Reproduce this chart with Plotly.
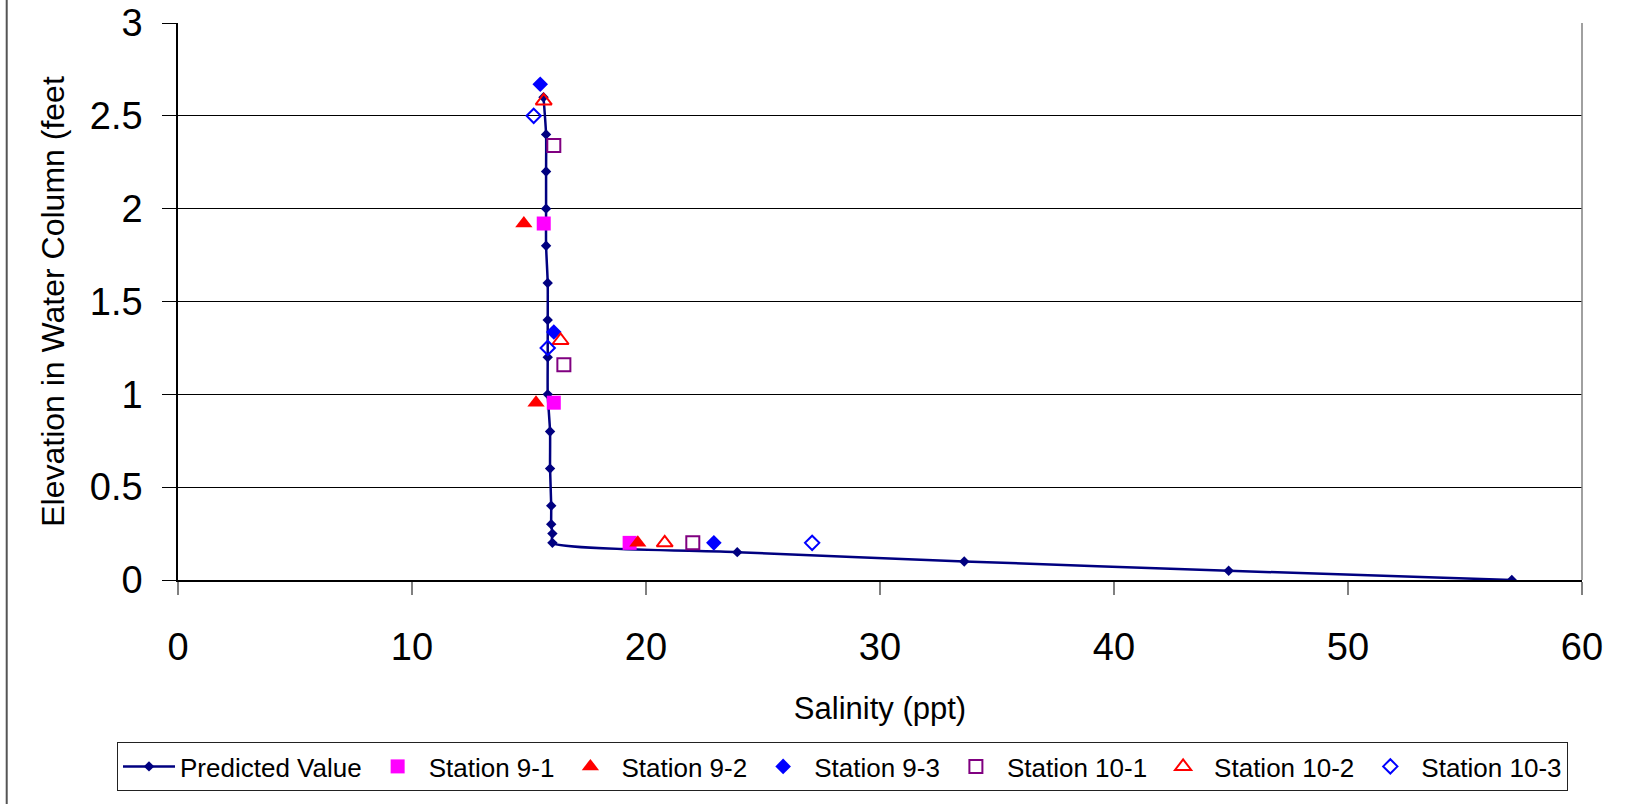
import plotly.graph_objects as go

# Predicted salinity profile (ppt) versus elevation in the water column (feet)
pred_salinity = [57.0, 44.9, 33.6, 23.9, 16.0, 16.0, 15.95, 15.95, 15.9, 15.9,
                 15.8, 15.8, 15.8, 15.8, 15.73, 15.73, 15.73, 15.73, 15.62]
pred_elev = [0.0, 0.05, 0.1, 0.15, 0.2, 0.25, 0.3, 0.4, 0.6, 0.8,
             1.0, 1.2, 1.4, 1.6, 1.8, 2.0, 2.2, 2.4, 2.6]

# Field measurements at each station
st91_sal = [15.63, 16.06, 19.3]
st91_elev = [1.92, 0.955, 0.2]
st92_sal = [14.78, 15.3, 19.65]
st92_elev = [1.92, 0.955, 0.2]
st93_sal = [15.48, 16.06, 22.9]
st93_elev = [2.67, 1.336, 0.2]
st101_sal = [16.06, 16.49, 22.0]
st101_elev = [2.34, 1.16, 0.2]
st102_sal = [15.63, 16.35, 20.8]
st102_elev = [2.58, 1.29, 0.2]
st103_sal = [15.2, 15.8, 27.1]
st103_elev = [2.5, 1.25, 0.2]

x_ticks = [0, 10, 20, 30, 40, 50, 60]
y_ticks = [0, 0.5, 1, 1.5, 2, 2.5, 3]
y_tick_text = ["0", "0.5", "1", "1.5", "2", "2.5", "3"]

FONT = "Liberation Sans, Arial, sans-serif"
PLOT_L, PLOT_T, PLOT_W, PLOT_H = 178, 23, 1404, 557

fig = go.Figure()

fig.add_trace(go.Scatter(
    x=pred_salinity, y=pred_elev, mode="lines+markers", name="Predicted Value",
    line=dict(color="#000080", width=2.5, shape="spline", smoothing=0.6),
    marker=dict(symbol="diamond", size=8, color="#000080"),
))

stations = [
    ("Station 9-1", st91_sal, st91_elev, "square", 14, "#FF00FF", True),
    ("Station 9-2", st92_sal, st92_elev, "triangle-up", 15, "#FF0000", True),
    ("Station 9-3", st93_sal, st93_elev, "diamond", 12, "#0000FF", True),
    ("Station 10-1", st101_sal, st101_elev, "square-open", 13, "#800080", False),
    ("Station 10-2", st102_sal, st102_elev, "triangle-up-open", 14, "#FF0000", False),
    ("Station 10-3", st103_sal, st103_elev, "diamond-open", 11, "#0000FF", False),
]
for name, xs, ys, sym, size, color, filled in stations:
    fig.add_trace(go.Scatter(
        x=xs, y=ys, mode="markers", name=name,
        marker=dict(symbol=sym, size=size, color=color,
                    line=dict(color=color, width=0 if filled else 2)),
    ))

fig.update_layout(
    width=1644, height=804,
    margin=dict(l=PLOT_L, r=1644 - PLOT_L - PLOT_W, t=PLOT_T, b=804 - PLOT_T - PLOT_H,
                autoexpand=False),
    paper_bgcolor="white", plot_bgcolor="white",
    font=dict(family=FONT, color="black"),
    showlegend=True,
    legend=dict(
        orientation="h",
        x=(117 - PLOT_L) / PLOT_W, xanchor="left",
        y=(PLOT_T + PLOT_H - 742) / PLOT_H, yanchor="top",
        bordercolor="#222222", borderwidth=1, bgcolor="white",
        font=dict(size=26, family=FONT), itemwidth=52,
    ),
    xaxis=dict(
        range=[0, 60], tickvals=x_ticks, showgrid=False, zeroline=False,
        showline=True, linecolor="black", linewidth=1.5, automargin=False,
        ticks="outside", ticklen=13, tickcolor="#808080", tickwidth=1.5,
        tickfont=dict(size=38, family=FONT), ticklabelstandoff=20,
        title=dict(text="Salinity (ppt)", font=dict(size=31, family=FONT), standoff=30),
    ),
    yaxis=dict(
        range=[0, 3], tickvals=y_ticks, ticktext=y_tick_text,
        showgrid=True, gridcolor="black", gridwidth=1, zeroline=False,
        showline=True, linecolor="black", linewidth=1.5, automargin=False,
        ticks="outside", ticklen=14, tickcolor="black", tickwidth=1,
        tickfont=dict(size=38, family=FONT), ticklabelstandoff=12,
        title=dict(text="Elevation in Water Column (feet", font=dict(size=32, family=FONT), standoff=16),
    ),
    shapes=[
        # right edge of the plot area
        dict(type="line", xref="x domain", yref="y domain", x0=1, x1=1, y0=0, y1=1,
             line=dict(color="#808080", width=1.5)),
        # left edge of the chart frame
        dict(type="line", xref="paper", yref="paper", x0=-0.122, x1=-0.122, y0=-0.41, y1=1.05,
             line=dict(color="#555555", width=2)),
    ],
)

fig.write_html("out.html")
